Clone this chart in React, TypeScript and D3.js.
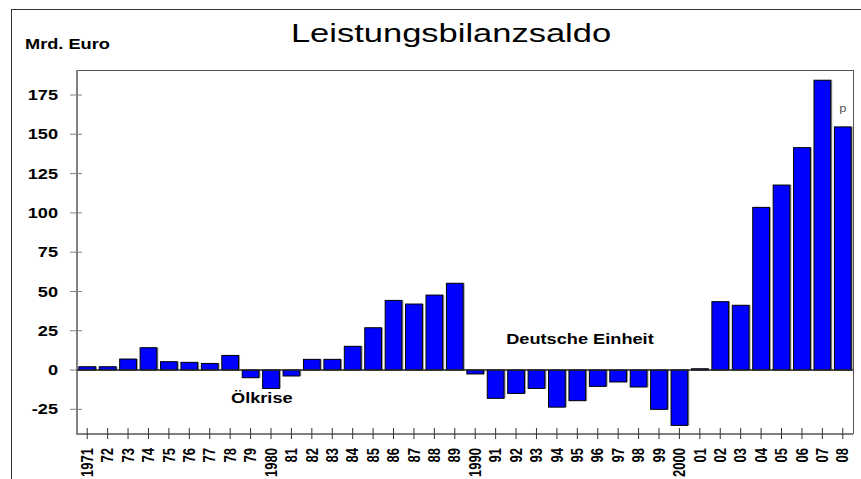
import * as d3 from "d3";

const years = d3.range(1971, 2009);
const yearLabels = years.map((y) => (y % 10 === 0 || y === 1971 ? String(y) : String(y).slice(2)));
const values = [
  2.1, 2.1, 7, 14.2, 5.3, 4.9, 4.2, 9.3, -4.9, -11.7, -3.8, 6.8, 6.8, 15.1, 26.9, 44.3, 42, 47.7, 55.2,
  -2.5, -18, -14.9, -11.7, -23.6, -19.5, -10.4, -7.6, -10.8, -25, -35.2, 0.8, 43.5, 41.2, 103.5, 117.7,
  141.5, 184.4, 154.7,
];
const yTicks = [-25, 0, 25, 50, 75, 100, 125, 150, 175];
// annotation position: year (fractional offset) and value level
const notes = [
  { year: 1979, offset: 0.55, value: -21, text: "Ölkrise" },
  { year: 1995, offset: 0.13, value: 16.5, text: "Deutsche Einheit" },
];

const W = 861;
const H = 479;
const left = 77;
const right = 853;
const top = 70;
const bottom = 434;
const font = "Liberation Sans, Arial, sans-serif";
const SX = 1.3; // the original's lettering is drawn wide

function Wide({ x, y, sx = SX, anchor = "start", size, bold, fill = "#000", dy, children }: any) {
  return (
    <text
      transform={`translate(${x},${y}) scale(${sx},1)`}
      textAnchor={anchor}
      dy={dy}
      fontSize={size}
      fontWeight={bold ? "bold" : "normal"}
      fill={fill}
    >
      {children}
    </text>
  );
}

export default function App() {
  const x = d3.scaleBand<number>().domain(years).range([left, right]).paddingInner(0.18).paddingOuter(0.09);
  const y = d3.scaleLinear().domain([-40.7, 190.9]).range([bottom, top]);
  const bw = x.bandwidth();

  return (
    <svg width={W} height={H} style={{ position: "absolute", left: 0, top: 0, background: "#fff" }} fontFamily={font}>
      <rect x={11.5} y={9.5} width={W + 10} height={H + 10} fill="none" stroke="#333" strokeWidth={1} />
      <Wide x={451} y={42} sx={1.38} anchor="middle" size={25}>Leistungsbilanzsaldo</Wide>
      <Wide x={25} y={49} size={14} bold>Mrd. Euro</Wide>

      {/* plot frame */}
      <line x1={left} x2={right} y1={top + 0.5} y2={top + 0.5} stroke="#555" strokeWidth={1} />
      <line x1={right + 0.5} x2={right + 0.5} y1={top} y2={bottom} stroke="#555" strokeWidth={1} />
      <line x1={left} x2={left} y1={top} y2={bottom + 1} stroke="#808080" strokeWidth={2} />
      <line x1={left} x2={right} y1={bottom} y2={bottom} stroke="#808080" strokeWidth={2} />

      {yTicks.map((t) => (
        <g key={t}>
          <line x1={70} x2={82} y1={y(t)} y2={y(t)} stroke="#808080" strokeWidth={1} />
          <Wide x={58} y={y(t)} dy="0.36em" anchor="end" size={14} bold>{t}</Wide>
        </g>
      ))}

      {values.map((v, i) => {
        const x0 = x(years[i])!;
        const y0 = Math.min(y(v), y(0));
        const h = Math.abs(y(v) - y(0));
        return (
          <g key={years[i]}>
            <rect x={x0 + 1.5} y={y0} width={bw} height={h} fill="#999" />
            <rect x={x0} y={y0} width={bw} height={h} fill="#0000ff" stroke="#000" strokeWidth={1} />
          </g>
        );
      })}
      <line x1={left} x2={right} y1={y(0)} y2={y(0)} stroke="#222" strokeWidth={1.5} />

      {years.map((yr, i) => {
        const cx = x(yr)! + bw / 2;
        return (
          <g key={yr}>
            <line x1={cx} x2={cx} y1={bottom - 6} y2={bottom + 5} stroke="#333" strokeWidth={1} />
            <text
              transform={`translate(${cx},${bottom + 14}) rotate(-90) scale(1,1.25)`}
              textAnchor="end"
              dy="0.35em"
              fontSize={13}
              fontWeight="bold"
              fill="#000"
            >
              {yearLabels[i]}
            </text>
          </g>
        );
      })}

      <Wide x={x(2008)! + bw / 2} y={y(164)} anchor="middle" size={10} fill="#555">p</Wide>
      {notes.map((n) => (
        <Wide key={n.text} x={x(n.year)! + bw / 2 + n.offset * x.step()} y={y(n.value)} anchor="middle" size={14} bold>
          {n.text}
        </Wide>
      ))}
    </svg>
  );
}
